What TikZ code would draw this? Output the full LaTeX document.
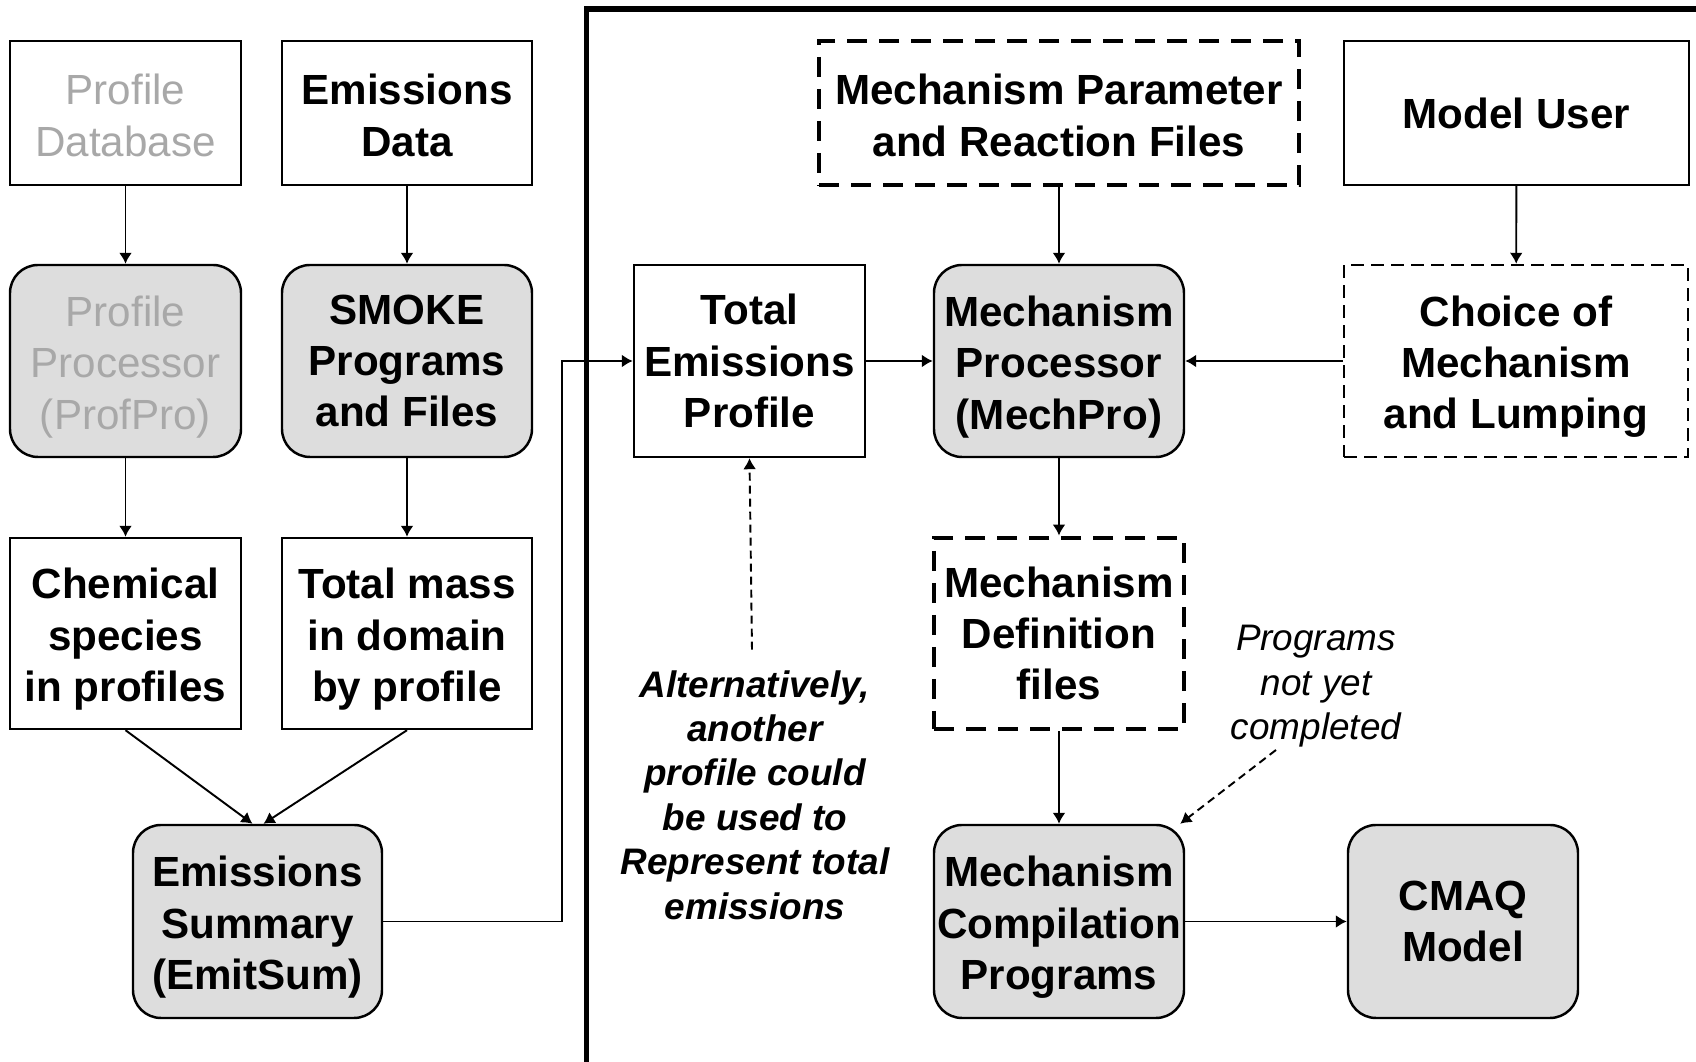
\documentclass[tikz,border=0pt]{standalone}
\usepackage{fontspec}
\setmainfont{Liberation Sans}
\usetikzlibrary{arrows.meta}

\definecolor{procfill}{HTML}{DDDDDD}
\definecolor{fadetext}{HTML}{A8A8A8}

% strut to push a label a little down when its last line has a descender
\newcommand{\lift}[1][12pt]{\rule{0pt}{#1}}

\tikzset{
  box/.style={draw, line width=0.7pt, align=center, inner sep=0pt,
    font=\bfseries\fontsize{12}{14.6}\selectfont},
  procbox/.style={box, fill=procfill, rounded corners=0.28cm},
  filebox/.style={box, line width=1.4pt, dash pattern=on 0.2cm off 0.12cm},
  choicebox/.style={box, dash pattern=on 0.13cm off 0.07cm},
  faded/.style={text=fadetext, font=\fontsize{12}{14.6}\selectfont},
  flow/.style={->, line width=0.55pt},
  hint/.style={->, line width=0.55pt, dash pattern=on 0.08cm off 0.05cm},
  note/.style={align=center, inner sep=0pt, font=\itshape\fontsize{10.5}{12.65}\selectfont}
}

\begin{document}
\begin{tikzpicture}[>={Latex[length=0.11cm,width=0.13cm]}]
\useasboundingbox (0,0) rectangle (16.96,10.62);

% --- Cornice ---
\draw[line width=1.5pt] (5.865,0) -- (5.865,10.53) -- (16.96,10.53);

% --- Colonna dei profili ---
\node[box, faded, minimum width=2.31cm, minimum height=1.44cm] (profdb) at (1.255,9.49) {\lift[10pt]Profile\\Database};
\node[procbox, faded, minimum width=2.31cm, minimum height=1.92cm] (profpro) at (1.255,7.01) {\lift Profile\\Processor\\(ProfPro)};
\node[box, minimum width=2.31cm, minimum height=1.91cm] (chem) at (1.255,4.285) {\lift Chemical\\species\\in profiles};

% --- Colonna delle emissioni ---
\node[box, minimum width=2.50cm, minimum height=1.44cm] (emisdata) at (4.07,9.49) {\lift[10pt]Emissions\\Data};
\node[procbox, minimum width=2.50cm, minimum height=1.92cm] (smoke) at (4.07,7.01) {SMOKE\\Programs\\and Files};
\node[box, minimum width=2.50cm, minimum height=1.91cm] (totmass) at (4.07,4.285) {\lift Total mass\\in domain\\by profile};
\node[procbox, minimum width=2.49cm, minimum height=1.93cm] (emitsum) at (2.575,1.405) {\lift Emissions\\Summary\\(EmitSum)};

% --- Meccanismo ---
\node[box, minimum width=2.31cm, minimum height=1.92cm] (totprof) at (7.495,7.01) {Total\\Emissions\\Profile};
\node[filebox, minimum width=4.80cm, minimum height=1.44cm] (mechparam) at (10.59,9.49) {\lift[10pt]Mechanism Parameter\\and Reaction Files};
\node[box, minimum width=3.45cm, minimum height=1.44cm] (modeluser) at (15.165,9.49) {Model User};
\node[procbox, minimum width=2.50cm, minimum height=1.92cm] (mechpro) at (10.59,7.01) {\lift Mechanism\\Processor\\(MechPro)};
\node[choicebox, minimum width=3.44cm, minimum height=1.92cm] (choice) at (15.16,7.01) {\lift Choice of\\Mechanism\\and Lumping};
\node[filebox, minimum width=2.50cm, minimum height=1.91cm] (mechdef) at (10.59,4.285) {Mechanism\\Definition\\files};
\node[procbox, minimum width=2.50cm, minimum height=1.93cm] (mechcomp) at (10.59,1.405) {\lift Mechanism\\Compilation\\Programs};
\node[procbox, minimum width=2.30cm, minimum height=1.93cm] (cmaq) at (14.63,1.405) {CMAQ\\Model};

% --- Note ---
\node[note, font=\bfseries\itshape\fontsize{10.5}{12.65}\selectfont] (altnote) at (7.55,2.67)
  {Alternatively,\\another\\profile could\\be used to\\Represent total\\emissions};
\node[note] (prognote) at (13.16,3.757) {Programs\\not yet\\completed};

% --- Frecce ---
\draw[flow] (profdb) -- (profpro);
\draw[flow] (profpro) -- (chem);
\draw[flow] (emisdata) -- (smoke);
\draw[flow] (smoke) -- (totmass);
\draw[flow] (chem.south) -- ([xshift=-0.05cm]emitsum.north);
\draw[flow] (totmass.south) -- ([xshift=0.06cm]emitsum.north);
\draw[flow] (emitsum.east) -| ([xshift=-0.705cm]totprof.west) -- (totprof.west);
\draw[flow] (totprof) -- (mechpro);
\draw[flow] (mechparam) -- (mechpro);
\draw[flow] (modeluser) -- (choice);
\draw[flow] (choice) -- (mechpro);
\draw[flow] (mechpro) -- (mechdef);
\draw[flow] (mechdef) -- (mechcomp);
\draw[flow] (mechcomp) -- (cmaq);

% --- Frecce tratteggiate ---
\draw[hint] ([xshift=-0.03cm,yshift=0.2cm]altnote.north) -- (totprof.south);
\draw[hint] ([xshift=-0.4cm,yshift=-0.02cm]prognote.south) -- ([xshift=-0.05cm]mechcomp.north east);

\end{tikzpicture}
\end{document}
